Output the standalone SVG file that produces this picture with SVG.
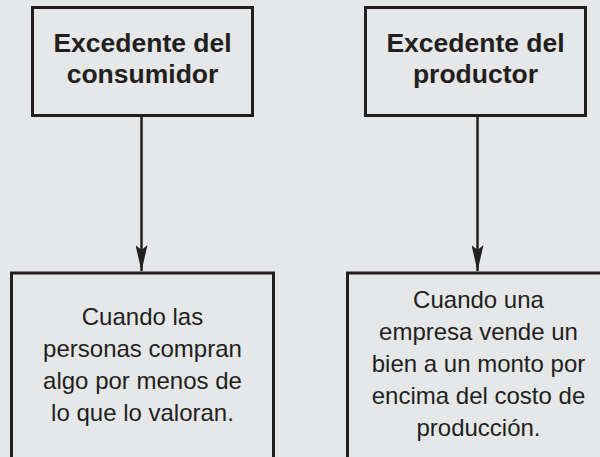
<svg xmlns="http://www.w3.org/2000/svg" width="600" height="457" viewBox="0 0 600 457">
<defs>
<style>
.box{fill:none;stroke:#231f20;stroke-width:3}
.conn{stroke:#231f20;stroke-width:2.5;fill:none}
.h{font-family:"Liberation Sans",Arial,sans-serif;font-weight:bold;font-size:26.5px;fill:#231f20;text-anchor:middle}
.t{font-family:"Liberation Sans",Arial,sans-serif;font-size:24px;fill:#231f20;text-anchor:middle}
</style>
<marker id="arr" viewBox="0 0 26 12" refX="26" refY="6" markerWidth="26" markerHeight="12" markerUnits="userSpaceOnUse" orient="auto">
<path d="M0,0 L26,6 L0,12 L5,6 z" fill="#231f20"/>
</marker>
</defs>
<rect width="600" height="457" fill="#e6e7e8"/>
<g id="connectors">
<line class="conn" x1="141.5" y1="117" x2="141.5" y2="271" marker-end="url(#arr)"/>
<line class="conn" x1="477.5" y1="117" x2="477.5" y2="271" marker-end="url(#arr)"/>
</g>
<g id="consumer">
<rect class="box" x="32.5" y="7.5" width="220" height="108"/>
<text class="h" x="142.5" y="52">Excedente del</text>
<text class="h" x="142.5" y="83">consumidor</text>
</g>
<g id="producer">
<rect class="box" x="365.5" y="7.5" width="220" height="108"/>
<text class="h" x="475.5" y="52">Excedente del</text>
<text class="h" x="475.5" y="83">productor</text>
</g>
<g id="consumer-def">
<rect class="box" x="11.5" y="273" width="262" height="200"/>
<text class="t" x="142.5" y="325">Cuando las</text>
<text class="t" x="142.5" y="357">personas compran</text>
<text class="t" x="142.5" y="389">algo por menos de</text>
<text class="t" x="142.5" y="421">lo que lo valoran.</text>
</g>
<g id="producer-def">
<rect class="box" x="347.5" y="273" width="300" height="200"/>
<text class="t" x="478.5" y="308">Cuando una</text>
<text class="t" x="478.5" y="340">empresa vende un</text>
<text class="t" x="478.5" y="372">bien a un monto por</text>
<text class="t" x="478.5" y="404">encima del costo de</text>
<text class="t" x="478.5" y="436">producción.</text>
</g>
</svg>
